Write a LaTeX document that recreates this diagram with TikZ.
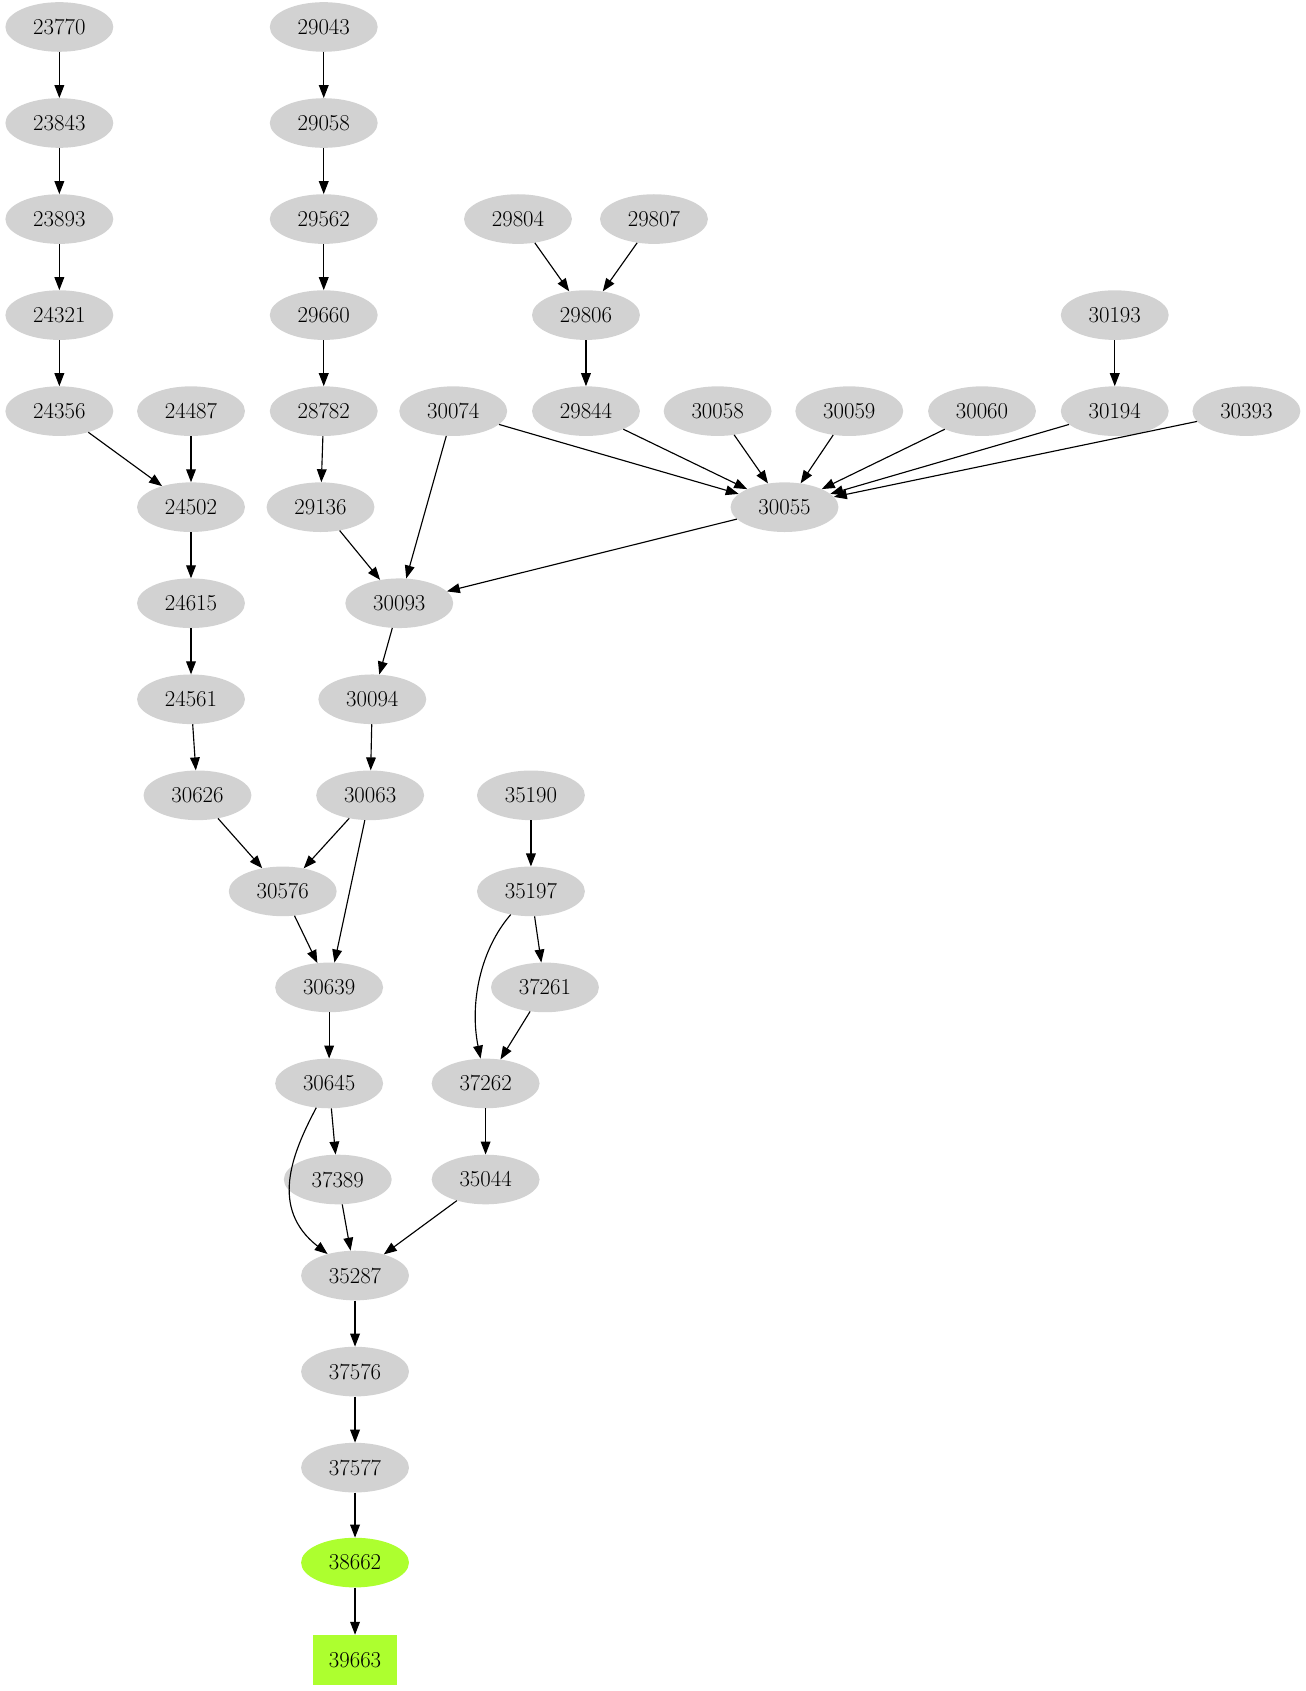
\documentclass[tikz,border=0pt]{standalone}
\usetikzlibrary{arrows.meta,shapes.geometric}
\begin{document}
\begin{tikzpicture}[x=0.05cm,y=-0.05cm,
 n/.style={ellipse,fill=gray!35,minimum width=5cm,minimum height=2.3cm,inner sep=0pt,font=\fontsize{30}{36}\selectfont},
 g/.style={n,fill={rgb,255:red,173;green,255;blue,47}},
 b/.style={rectangle,fill={rgb,255:red,173;green,255;blue,47},minimum width=3.9cm,minimum height=2.3cm,inner sep=0pt,font=\fontsize{30}{36}\selectfont},
 e/.style={-{Triangle[length=0.6cm,width=0.45cm]},line width=1.5pt}]
\useasboundingbox (0,0) rectangle (1210,1567);
\foreach \nm/\x/\y in {23770/55/25,23843/55/114,23893/55/203,24321/55/292,24356/55/381,24487/177/381,24502/177/470,24615/177/559,24561/177/648,30626/183/737,30576/262/826,30639/305/915,30645/305/1004,37389/313/1093,35287/329/1182,37576/329/1271,37577/329/1360,29043/300/25,29058/300/114,29562/300/203,29660/300/292,28782/300/381,29136/297/470,30093/370/559,30094/345/648,30063/343/737,29804/480/203,29807/606/203,29806/543/292,29844/543/381,30074/420/381,30058/665/381,30059/787/381,30060/910/381,30193/1033/292,30194/1033/381,30393/1155/381,30055/727/470,35190/492/737,35197/492/826,37261/505/915,37262/450/1004,35044/450/1093}
 \node[n] (n\nm) at (\x,\y) {\nm};
\node[g] (n38662) at (329,1448) {38662};
\node[b] (n39663) at (329,1538) {39663};
\foreach \a/\b in {23770/23843,23843/23893,23893/24321,24321/24356,24356/24502,24487/24502,24502/24615,24615/24561,24561/30626,30626/30576,30063/30576,30576/30639,30063/30639,30639/30645,30645/37389,37389/35287,35044/35287,35287/37576,37576/37577,37577/38662,38662/39663,29043/29058,29058/29562,29562/29660,29660/28782,28782/29136,29136/30093,30074/30093,30055/30093,30093/30094,30094/30063,29804/29806,29807/29806,29806/29844,29844/30055,30074/30055,30058/30055,30059/30055,30060/30055,30193/30194,30194/30055,30393/30055,35190/35197,35197/37261,37261/37262,37262/35044}
 \draw[e] (n\a) -- (n\b);
\draw[e] (n35197) .. controls (445,880) and (435,930) .. (n37262);
\draw[e] (n30645) .. controls (270,1070) and (250,1120) .. (n35287);
\end{tikzpicture}
\end{document}
